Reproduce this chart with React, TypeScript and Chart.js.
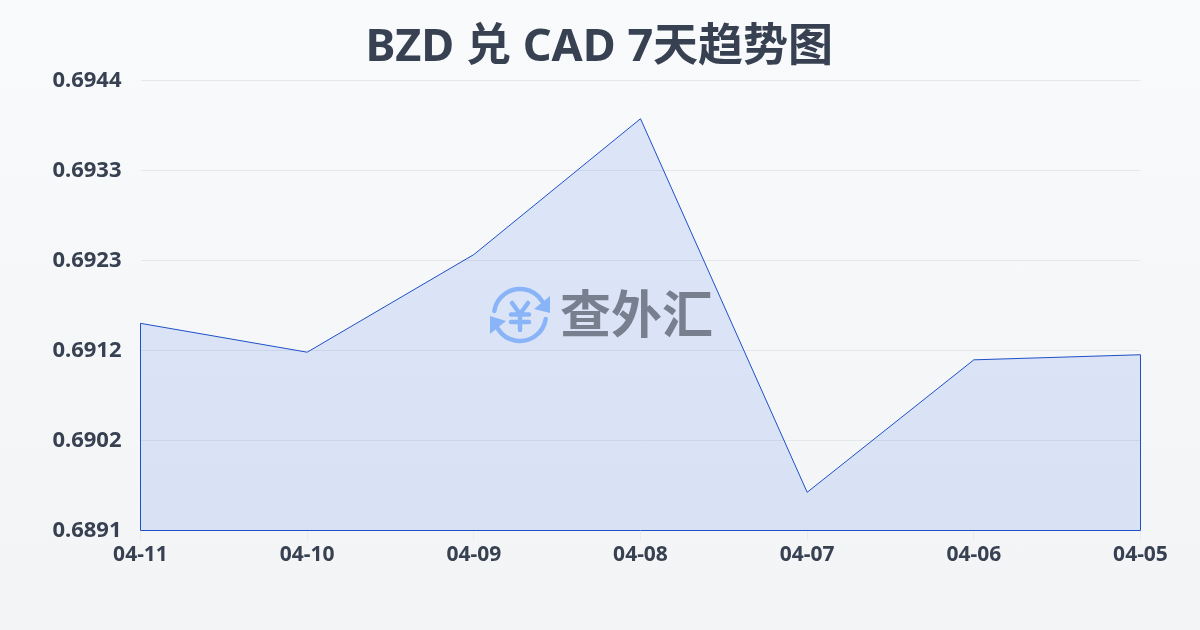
import React, { useEffect, useRef } from "react";
import { Chart, registerables } from "chart.js";

Chart.register(...registerables);

const titleText = "BZD 兑 CAD 7天趋势图";
const watermarkText = "查外汇";
const categories = ["04-11", "04-10", "04-09", "04-08", "04-07", "04-06", "04-05"];
const rates = [0.69154, 0.6912, 0.69235, 0.69395, 0.68955, 0.69111, 0.69117];
const yTicks = [0.6891, 0.69016, 0.69122, 0.69228, 0.69334, 0.6944];
const FONT = '"Noto Sans", "Noto Sans CJK SC", sans-serif';
const TEXT = "#374151";
const LINE = "#1e50c8";

const outline = {
  id: "outline",
  afterDatasetsDraw(chart: any) {
    const pts = chart.getDatasetMeta(0).data;
    const base = chart.scales.y.bottom;
    const c = chart.ctx;
    c.save();
    c.strokeStyle = LINE;
    c.lineWidth = 1;
    c.beginPath();
    c.moveTo(pts[0].x, pts[0].y);
    c.lineTo(pts[0].x, base);
    c.lineTo(pts[pts.length - 1].x, base);
    c.lineTo(pts[pts.length - 1].x, pts[pts.length - 1].y);
    c.stroke();
    c.restore();
  },
};

const watermark = {
  id: "watermark",
  afterDraw(chart: any) {
    const c = chart.ctx;
    const cx = 520;
    const cy = 315;
    const r = 26;
    c.save();
    c.strokeStyle = "#8ab4f8";
    c.fillStyle = "#8ab4f8";
    c.lineWidth = 4.5;
    c.lineCap = "round";
    c.beginPath();
    c.arc(cx, cy, r, Math.PI * 1.05, Math.PI * 1.82);
    c.stroke();
    c.beginPath();
    c.arc(cx, cy, r, Math.PI * 0.05, Math.PI * 0.82);
    c.stroke();
    c.beginPath();
    c.moveTo(550, 296);
    c.lineTo(550, 313);
    c.lineTo(534, 309);
    c.closePath();
    c.fill();
    c.beginPath();
    c.moveTo(490, 334);
    c.lineTo(490, 316);
    c.lineTo(506, 321);
    c.closePath();
    c.fill();
    c.lineWidth = 4.5;
    c.beginPath();
    c.moveTo(512, 303);
    c.lineTo(520, 314);
    c.lineTo(528, 303);
    c.moveTo(520, 314);
    c.lineTo(520, 330);
    c.moveTo(511, 314.5);
    c.lineTo(529, 314.5);
    c.moveTo(511, 322);
    c.lineTo(529, 322);
    c.stroke();
    c.fillStyle = "#78808f";
    c.font = `700 51px ${FONT}`;
    c.textAlign = "left";
    c.textBaseline = "middle";
    c.fillText(watermarkText, 560, 318);
    c.restore();
  },
};

export default function App() {
  const ref = useRef<HTMLCanvasElement>(null);
  useEffect(() => {
    document.body.style.margin = "0";
    const chart = new Chart(ref.current as HTMLCanvasElement, {
      type: "line",
      data: {
        labels: categories,
        datasets: [
          {
            data: rates,
            borderColor: LINE,
            borderWidth: 1,
            backgroundColor: "rgba(37,99,235,0.13)",
            fill: "start",
            tension: 0,
            pointRadius: 0,
          },
        ],
      },
      options: {
        responsive: false,
        animation: false,
        layout: { padding: { left: 0, right: 1.5, top: 0, bottom: 0 } },
        plugins: {
          legend: { display: false },
          tooltip: { enabled: false },
          title: {
            display: true,
            text: titleText,
            color: TEXT,
            font: { family: FONT, size: 45, weight: "bold", lineHeight: 1.2 },
            padding: { top: 21, bottom: 5.5 },
          },
        },
        scales: {
          x: {
            afterFit(s: any) {
              s.height = 99.5;
            },
            border: { display: false },
            grid: {
              drawOnChartArea: false,
              drawTicks: true,
              tickLength: 10,
              tickColor: "rgba(200,200,190,0.18)",
            },
            ticks: {
              color: TEXT,
              padding: 2,
              maxRotation: 0,
              autoSkip: false,
              font: { family: FONT, size: 21, weight: "bold" },
            },
          },
          y: {
            min: yTicks[0],
            max: yTicks[yTicks.length - 1],
            afterFit(s: any) {
              s.width = 140.5;
            },
            afterBuildTicks(s: any) {
              s.ticks = yTicks.map((value) => ({ value }));
            },
            border: { display: false },
            grid: { color: "#e5e7eb", lineWidth: 1, drawTicks: false },
            ticks: {
              color: TEXT,
              padding: 19,
              font: { family: FONT, size: 22, weight: "bold" },
              callback: (v: any) => Number(v).toFixed(4),
            },
          },
          rightGutter: {
            position: "right",
            afterFit(s: any) {
              s.width = 58;
            },
            border: { display: false },
            grid: { display: false },
            ticks: { display: false },
          },
        },
      },
      plugins: [outline, watermark],
    } as any);
    return () => chart.destroy();
  }, []);
  return (
    <div style={{ width: 1200, height: 630, background: "linear-gradient(180deg, #f8fafc 0%, #f3f4f6 100%)" }}>
      <canvas ref={ref} width={1200} height={630} style={{ display: "block" }} />
    </div>
  );
}
